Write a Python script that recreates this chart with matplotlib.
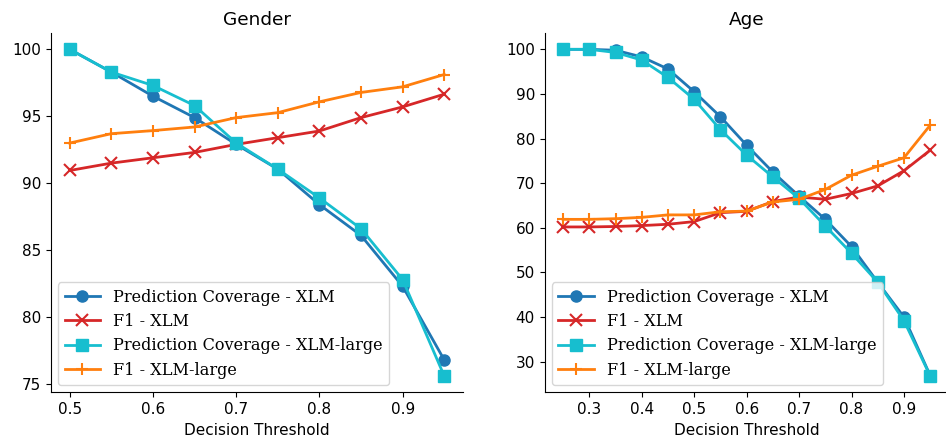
import matplotlib
matplotlib.use("Agg")
import matplotlib.pyplot as plt

# Gender
g_thr = [0.5, 0.55, 0.6, 0.65, 0.7, 0.75, 0.8, 0.85, 0.9, 0.95]
g_cov_xlm = [100.0, 98.3, 96.5, 94.9, 92.9, 91.05, 88.4, 86.1, 82.3, 76.8]
g_f1_xlm = [90.95, 91.5, 91.9, 92.3, 92.9, 93.4, 93.9, 94.9, 95.7, 96.65]
g_cov_large = [100.0, 98.3, 97.3, 95.8, 93.0, 91.05, 88.9, 86.6, 82.8, 75.6]
g_f1_large = [93.0, 93.7, 93.93, 94.2, 94.9, 95.27, 96.08, 96.78, 97.2, 98.12]

# Age
a_thr = [0.25, 0.3, 0.35, 0.4, 0.45, 0.5, 0.55, 0.6, 0.65, 0.7, 0.75, 0.8, 0.85, 0.9, 0.95]
a_cov_xlm = [100.0, 100.0, 99.8, 98.3, 95.6, 90.5, 84.9, 78.5, 72.5, 67.1, 61.9, 55.8, 47.8, 40.0, 26.9]
a_f1_xlm = [60.2, 60.2, 60.3, 60.5, 60.8, 61.4, 63.4, 63.7, 65.9, 66.9, 66.4, 67.7, 69.4, 72.8, 77.4]
a_cov_large = [100.0, 100.0, 99.3, 97.6, 93.7, 88.8, 82.0, 76.3, 71.4, 66.6, 60.4, 54.3, 47.8, 39.2, 26.8]
a_f1_large = [61.9, 61.9, 62.05, 62.35, 62.9, 62.9, 63.6, 63.75, 65.8, 66.4, 68.6, 71.8, 73.8, 75.7, 83.0]

labels = ["Prediction Coverage - XLM", "F1 - XLM",
          "Prediction Coverage - XLM-large", "F1 - XLM-large"]
colors = ["#1f77b4", "#d62728", "#17becf", "#ff7f0e"]
markers = ["o", "x", "s", "+"]

fig = plt.figure(figsize=(9.46, 4.43), dpi=100)
ax1 = fig.add_axes([0.0539, 0.1144, 0.4355, 0.8111])
ax2 = fig.add_axes([0.5758, 0.1144, 0.4269, 0.8111])

for ax, thr, series, title in [
    (ax1, g_thr, [g_cov_xlm, g_f1_xlm, g_cov_large, g_f1_large], "Gender"),
    (ax2, a_thr, [a_cov_xlm, a_f1_xlm, a_cov_large, a_f1_large], "Age"),
]:
    for vals, lab, c, m in zip(series, labels, colors, markers):
        ms = 8 if m in ("o", "s") else 9
        ax.plot(thr, vals, color=c, marker=m, label=lab, linewidth=2,
                markersize=ms, markeredgewidth=1.5 if m in ("x", "+") else 1.0)
    ax.set_title(title, fontsize=13.3)
    ax.set_xlabel("Decision Threshold", fontsize=11)
    ax.spines["top"].set_visible(False)
    ax.spines["right"].set_visible(False)
    ax.tick_params(labelsize=11)
    ax.legend(loc="lower left", prop={"family": "DejaVu Serif", "size": 11.6},
              handlelength=2.2, borderpad=0.4, labelspacing=0.45,
              borderaxespad=0.45)

ax1.set_xticks([0.5, 0.6, 0.7, 0.8, 0.9])
ax1.set_yticks([75, 80, 85, 90, 95, 100])
ax2.set_xticks([0.3, 0.4, 0.5, 0.6, 0.7, 0.8, 0.9])
ax2.set_yticks([30, 40, 50, 60, 70, 80, 90, 100])

fig.savefig("out.png", dpi=100)
